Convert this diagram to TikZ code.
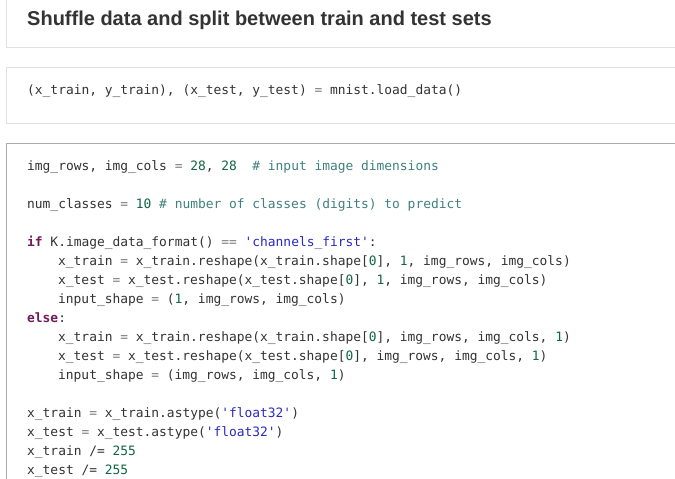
\documentclass[tikz,border=0pt]{standalone}
\usepackage{xcolor}
\usepackage{fontspec}
\usepackage{tikz}
\setmainfont{Liberation Sans}
\setmonofont{DejaVu Sans Mono}
\definecolor{txt}{HTML}{333333}
\definecolor{kwcol}{HTML}{701A5A}
\definecolor{numcol}{HTML}{116644}
\definecolor{cmtcol}{HTML}{408080}
\definecolor{strcol}{HTML}{2A2ABF}
\definecolor{opcol}{HTML}{7A7A7A}
\definecolor{cellline}{HTML}{E0E0E0}
\definecolor{selline}{HTML}{ABABAB}
\def\kw#1{\textcolor{kwcol}{\bfseries #1}}
\def\nm#1{\textcolor{numcol}{#1}}
\def\cm#1{\textcolor{cmtcol}{#1}}
\def\st#1{\textcolor{strcol}{#1}}
\def\op#1{\textcolor{opcol}{#1}}

\begin{document}
\begin{tikzpicture}[x=1pt, y=-1pt,
		code/.style={anchor=base west, inner sep=0pt, text=txt, font=\ttfamily\fontsize{12.9}{15}\selectfont}]
			\useasboundingbox (0,0) rectangle (675,479);
			\clip (0,0) rectangle (675,479);
			\fill [white] (0,0) rectangle (675,479);
			% cells
			\draw [cellline, line width=1pt] (6.5,-10) rectangle (700,47);
			\draw [cellline, line width=1pt] (6.5,67) rectangle (700,123);
			\draw [selline, line width=1pt] (6.5,143) rectangle (700,520);
			% heading
			\node [anchor=base west, inner sep=0pt, text=txt, font=\bfseries\fontsize{20}{24}\selectfont] (title) at (27,25.7) {Shuffle data and split between train and test sets};
			% load
			\node [code] (load) at (27,94.5) {(x\_train, y\_train), (x\_test, y\_test) \op{=} mnist.load\_data()};
			% reshape cell
			\node [code] (rows) at (27,170.5) {img\_rows, img\_cols \op{=} \nm{28}, \nm{28}\ \ \cm{\# input image dimensions}};
			\node [code] (classes) at (27,208.5) {num\_classes \op{=} \nm{10} \cm{\# number of classes (digits) to predict}};
			\node [code] (iffirst) at (27,246.5) {\kw{if} K.image\_data\_format() \op{==} \st{'channels\_first'}:};
			\node [code] (trainA) at (58,265.5) {x\_train \op{=} x\_train.reshape(x\_train.shape[\nm{0}], \nm{1}, img\_rows, img\_cols)};
			\node [code] (testA) at (58,284.5) {x\_test \op{=} x\_test.reshape(x\_test.shape[\nm{0}], \nm{1}, img\_rows, img\_cols)};
			\node [code] (shapeA) at (58,303.5) {input\_shape \op{=} (\nm{1}, img\_rows, img\_cols)};
			\node [code] (elsepart) at (27,322.5) {\kw{else}:};
			\node [code] (trainB) at (58,341.5) {x\_train \op{=} x\_train.reshape(x\_train.shape[\nm{0}], img\_rows, img\_cols, \nm{1})};
			\node [code] (testB) at (58,360.5) {x\_test \op{=} x\_test.reshape(x\_test.shape[\nm{0}], img\_rows, img\_cols, \nm{1})};
			\node [code] (shapeB) at (58,379.5) {input\_shape \op{=} (img\_rows, img\_cols, \nm{1})};
			\node [code] (trainF) at (27,417.5) {x\_train \op{=} x\_train.astype(\st{'float32'})};
			\node [code] (testF) at (27,436.5) {x\_test \op{=} x\_test.astype(\st{'float32'})};
			\node [code] (trainN) at (27,455.5) {x\_train /= \nm{255}};
			\node [code] (testN) at (27,474.5) {x\_test /= \nm{255}};
		\end{tikzpicture}
\end{document}
